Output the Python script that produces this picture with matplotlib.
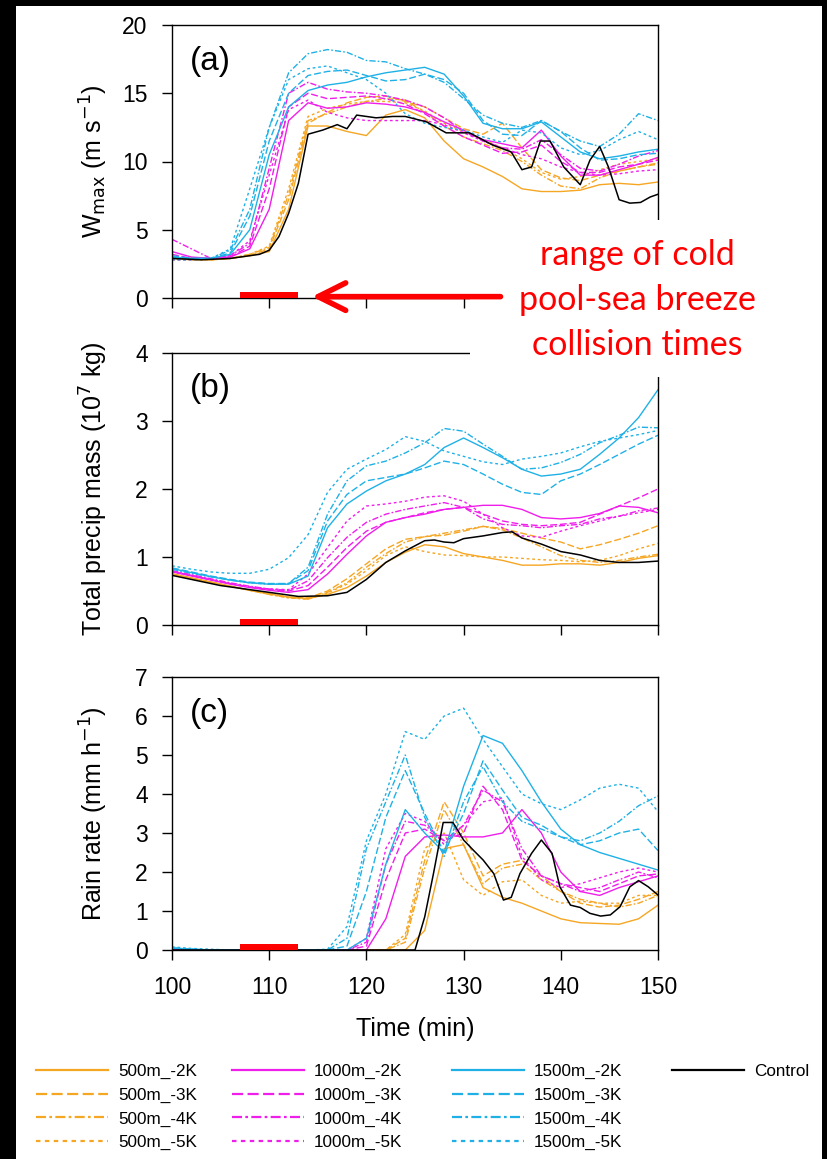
import matplotlib
matplotlib.use("Agg")
import matplotlib.pyplot as plt
from matplotlib.lines import Line2D
from matplotlib.patches import Rectangle
from matplotlib.text import Annotation

plt.rcParams["font.family"] = ["Liberation Sans", "DejaVu Sans"]

# time grid (min) shared by the sensitivity runs
TIME = [100, 102, 104, 106, 108, 110, 112, 114, 116, 118, 120, 122, 124,
        126, 128, 130, 132, 134, 136, 138, 140, 142, 144, 146, 148, 150]

LABELS = ["500m_-2K", "500m_-3K", "500m_-4K", "500m_-5K",
          "1000m_-2K", "1000m_-3K", "1000m_-4K", "1000m_-5K",
          "1500m_-2K", "1500m_-3K", "1500m_-4K", "1500m_-5K"]

# (a) W_max (m/s)
WMAX = {
    "500m_-2K": [3.0, 2.9, 2.8, 2.9, 3.1, 3.4, 6.5, 12.6, 12.6, 12.2, 11.9, 13.4, 13.8, 13.2, 11.5, 10.2, 9.6, 8.9, 8.0, 7.8, 7.8, 7.9, 8.3, 8.4, 8.3, 8.5],
    "500m_-3K": [2.9, 2.8, 2.8, 2.9, 3.1, 3.6, 7.2, 12.8, 13.6, 14.3, 14.7, 14.8, 14.4, 14.0, 13.2, 12.4, 12.0, 12.8, 11.0, 9.4, 8.8, 8.6, 9.0, 9.3, 9.6, 9.8],
    "500m_-4K": [2.9, 2.8, 2.8, 2.9, 3.2, 3.7, 7.6, 13.0, 13.5, 14.0, 14.4, 14.6, 14.5, 13.6, 12.6, 11.8, 11.3, 10.8, 10.0, 9.0, 8.2, 8.0, 8.8, 9.3, 9.6, 9.9],
    "500m_-5K": [2.8, 2.8, 2.8, 2.9, 3.2, 3.8, 8.0, 13.3, 13.9, 14.2, 14.4, 14.4, 14.3, 13.7, 12.8, 12.2, 11.6, 11.0, 10.2, 9.2, 8.7, 8.9, 9.4, 9.8, 10.0, 10.2],
    "1000m_-2K": [3.4, 3.0, 2.9, 3.0, 3.6, 6.5, 13.0, 14.3, 13.9, 14.0, 14.3, 14.2, 14.0, 13.6, 12.9, 12.3, 11.6, 11.3, 11.0, 12.3, 10.4, 9.0, 9.0, 9.4, 9.8, 10.3],
    "1000m_-3K": [3.2, 2.9, 2.9, 3.0, 3.8, 8.0, 14.0, 15.0, 14.6, 14.7, 14.8, 14.6, 14.2, 13.5, 12.6, 11.8, 11.2, 10.6, 10.7, 11.2, 10.0, 9.2, 9.2, 9.6, 9.8, 10.1],
    "1000m_-4K": [4.3, 3.6, 2.9, 3.1, 4.0, 9.5, 15.0, 15.8, 15.3, 15.1, 15.0, 14.8, 14.5, 14.0, 13.2, 12.2, 11.5, 11.0, 10.9, 11.6, 10.5, 9.5, 9.3, 9.8, 10.4, 10.8],
    "1000m_-5K": [2.8, 2.8, 2.9, 3.1, 4.2, 9.0, 13.8, 14.5, 13.6, 13.2, 13.0, 13.0, 13.0, 13.0, 12.7, 12.1, 11.5, 11.0, 10.5, 10.2, 9.6, 9.2, 9.0, 9.1, 9.3, 9.4],
    "1500m_-2K": [3.0, 2.9, 2.9, 3.2, 5.0, 10.5, 14.0, 15.2, 15.6, 15.8, 16.2, 16.5, 16.7, 16.9, 16.4, 14.8, 12.8, 12.4, 12.4, 12.9, 11.8, 10.7, 10.2, 10.4, 10.7, 10.9],
    "1500m_-3K": [3.1, 2.9, 2.9, 3.3, 6.0, 11.5, 15.0, 16.3, 16.6, 16.7, 16.3, 15.9, 16.0, 16.4, 16.0, 15.0, 13.0, 12.0, 11.9, 13.0, 12.2, 11.0, 10.1, 10.2, 10.5, 10.6],
    "1500m_-4K": [3.0, 2.9, 2.9, 3.5, 6.5, 12.5, 16.5, 17.9, 18.2, 18.0, 17.4, 17.3, 16.8, 16.4, 15.8, 14.6, 13.4, 12.8, 12.5, 13.0, 12.2, 11.5, 11.1, 12.0, 13.5, 13.0],
    "1500m_-5K": [2.8, 2.8, 2.9, 3.6, 8.0, 12.5, 16.0, 16.8, 17.0, 16.5, 16.0, 15.0, 13.5, 12.8, 12.5, 12.3, 11.8, 11.4, 12.3, 12.1, 11.0, 10.5, 10.8, 11.6, 12.2, 11.6],
}

# (b) total precip mass (1e7 kg)
PMASS = {
    "500m_-2K": [0.75, 0.69, 0.63, 0.57, 0.51, 0.46, 0.41, 0.39, 0.45, 0.55, 0.72, 0.92, 1.07, 1.18, 1.15, 1.05, 1.00, 0.95, 0.88, 0.88, 0.90, 0.90, 0.88, 0.92, 0.98, 1.02],
    "500m_-3K": [0.75, 0.69, 0.63, 0.57, 0.51, 0.46, 0.41, 0.40, 0.50, 0.68, 0.90, 1.12, 1.26, 1.30, 1.32, 1.38, 1.45, 1.42, 1.35, 1.28, 1.22, 1.12, 1.18, 1.26, 1.35, 1.46],
    "500m_-4K": [0.75, 0.69, 0.63, 0.57, 0.51, 0.45, 0.40, 0.38, 0.48, 0.62, 0.85, 1.05, 1.22, 1.30, 1.35, 1.40, 1.45, 1.40, 1.28, 1.15, 1.02, 0.95, 0.92, 0.95, 1.00, 1.04],
    "500m_-5K": [0.75, 0.69, 0.63, 0.57, 0.51, 0.45, 0.40, 0.38, 0.47, 0.60, 0.80, 1.02, 1.15, 1.08, 1.03, 1.02, 1.00, 1.00, 0.98, 0.96, 0.95, 0.93, 0.95, 1.02, 1.12, 1.20],
    "1000m_-2K": [0.78, 0.72, 0.66, 0.60, 0.55, 0.51, 0.48, 0.52, 0.75, 1.04, 1.31, 1.51, 1.58, 1.63, 1.70, 1.73, 1.76, 1.76, 1.70, 1.58, 1.56, 1.58, 1.64, 1.75, 1.73, 1.65],
    "1000m_-3K": [0.79, 0.73, 0.67, 0.61, 0.56, 0.52, 0.50, 0.58, 0.85, 1.14, 1.38, 1.51, 1.58, 1.65, 1.70, 1.73, 1.63, 1.53, 1.48, 1.46, 1.48, 1.51, 1.63, 1.75, 1.87, 2.00],
    "1000m_-4K": [0.80, 0.74, 0.68, 0.62, 0.57, 0.53, 0.51, 0.65, 0.99, 1.29, 1.51, 1.63, 1.70, 1.75, 1.80, 1.73, 1.56, 1.48, 1.46, 1.43, 1.46, 1.48, 1.56, 1.60, 1.68, 1.72],
    "1000m_-5K": [0.79, 0.73, 0.67, 0.61, 0.56, 0.53, 0.52, 0.75, 1.14, 1.53, 1.75, 1.78, 1.82, 1.88, 1.90, 1.82, 1.63, 1.43, 1.31, 1.29, 1.38, 1.46, 1.53, 1.60, 1.65, 1.70],
    "1500m_-2K": [0.83, 0.77, 0.71, 0.66, 0.62, 0.60, 0.60, 0.72, 1.43, 1.78, 1.97, 2.12, 2.22, 2.36, 2.61, 2.75, 2.61, 2.46, 2.29, 2.19, 2.22, 2.29, 2.51, 2.75, 3.05, 3.46],
    "1500m_-3K": [0.84, 0.78, 0.72, 0.67, 0.63, 0.61, 0.61, 0.80, 1.53, 1.92, 2.12, 2.17, 2.22, 2.31, 2.41, 2.36, 2.22, 2.07, 1.95, 1.92, 2.12, 2.22, 2.36, 2.51, 2.66, 2.79],
    "1500m_-4K": [0.82, 0.76, 0.71, 0.66, 0.62, 0.60, 0.61, 0.85, 1.63, 2.12, 2.34, 2.41, 2.53, 2.68, 2.89, 2.85, 2.66, 2.48, 2.29, 2.31, 2.39, 2.51, 2.68, 2.79, 2.91, 2.90],
    "1500m_-5K": [0.87, 0.82, 0.78, 0.76, 0.76, 0.82, 0.99, 1.33, 1.95, 2.29, 2.44, 2.58, 2.77, 2.70, 2.56, 2.48, 2.40, 2.36, 2.44, 2.48, 2.53, 2.62, 2.70, 2.75, 2.80, 2.86],
}

# (c) rain rate (mm/h)
RAIN = {
    "500m_-2K": [0, 0, 0, 0, 0, 0, 0, 0, 0, 0, 0, 0, 0, 0.5, 2.6, 2.7, 1.6, 1.35, 1.2, 1.0, 0.8, 0.7, 0.68, 0.66, 0.8, 1.15],
    "500m_-3K": [0, 0, 0, 0, 0, 0, 0, 0, 0, 0, 0, 0, 0.3, 2.3, 3.8, 3.0, 1.9, 2.2, 2.3, 1.9, 1.5, 1.2, 1.1, 1.15, 1.3, 1.5],
    "500m_-4K": [0, 0, 0, 0, 0, 0, 0, 0, 0, 0, 0, 0, 0.2, 2.1, 3.6, 2.7, 1.7, 2.1, 2.2, 1.8, 1.5, 1.3, 1.2, 1.1, 1.2, 1.4],
    "500m_-5K": [0, 0, 0, 0, 0, 0, 0, 0, 0, 0, 0, 0, 0.4, 2.6, 3.0, 1.8, 1.4, 1.75, 1.8, 1.4, 1.2, 1.25, 1.2, 1.2, 1.4, 1.4],
    "1000m_-2K": [0, 0, 0, 0, 0, 0, 0, 0, 0, 0, 0, 0.8, 2.4, 2.9, 2.95, 2.9, 2.9, 3.0, 3.6, 3.0, 2.0, 1.5, 1.4, 1.6, 1.75, 1.9],
    "1000m_-3K": [0, 0, 0, 0, 0, 0, 0, 0, 0, 0, 0.1, 1.8, 3.0, 3.1, 2.8, 3.0, 4.2, 3.6, 2.3, 1.9, 1.7, 1.6, 1.5, 1.7, 1.9, 1.95],
    "1000m_-4K": [0, 0, 0, 0, 0, 0, 0, 0, 0, 0, 0.2, 2.2, 3.3, 3.2, 2.8, 3.2, 4.1, 3.8, 2.6, 1.9, 1.7, 1.5, 1.6, 1.8, 2.0, 1.85],
    "1000m_-5K": [0, 0, 0, 0, 0, 0, 0, 0, 0, 0, 0.3, 2.6, 3.5, 3.3, 2.7, 3.2, 3.8, 3.9, 2.4, 1.8, 1.6, 1.7, 1.85, 2.0, 2.1, 2.0],
    "1500m_-2K": [0.05, 0.02, 0, 0, 0, 0, 0, 0, 0, 0, 0.3, 2.2, 3.6, 3.0, 2.5, 4.2, 5.5, 5.3, 4.6, 3.8, 3.1, 2.7, 2.5, 2.35, 2.2, 2.05],
    "1500m_-3K": [0.05, 0.02, 0, 0, 0, 0, 0, 0, 0, 0.1, 1.5, 3.4, 4.6, 3.5, 2.5, 3.5, 4.85, 4.1, 3.4, 3.2, 2.9, 2.7, 2.8, 3.0, 3.1, 2.55],
    "1500m_-4K": [0.05, 0.02, 0, 0, 0, 0, 0, 0, 0, 0.3, 2.6, 3.8, 5.0, 3.4, 2.4, 3.8, 4.7, 3.8, 3.3, 3.1, 2.9, 2.8, 3.0, 3.3, 3.7, 3.95],
    "1500m_-5K": [0.08, 0.04, 0.02, 0, 0, 0, 0, 0, 0.02, 0.6, 2.8, 4.0, 5.6, 5.4, 6.0, 6.2, 5.4, 4.7, 4.0, 3.75, 3.6, 3.85, 4.15, 4.25, 4.15, 3.55],
}

# control run, sampled on its own times
CTRL_A_T = [100, 103, 106, 109, 110, 111, 112, 113, 114, 115.5, 117, 118, 119, 121, 122.7, 124, 126.2, 128.2,
            130.6, 133, 134.9, 136, 137, 137.9, 138.9, 140.3, 142, 143, 144, 144.9, 146, 147.1, 148.2, 149.2, 150]
CTRL_A_V = [2.9, 2.8, 2.9, 3.2, 3.5, 4.5, 6.2, 8.4, 12.0, 12.3, 12.7, 12.4, 13.4, 13.2, 13.3, 13.3, 12.9, 12.1,
            12.1, 11.2, 10.7, 9.4, 9.6, 11.5, 11.5, 9.6, 8.3, 10.1, 11.1, 9.6, 7.2, 6.95, 7.0, 7.4, 7.6]
CTRL_B_T = [100, 105, 110, 113, 116, 118, 120, 122, 124, 126, 127, 128, 129, 130, 132, 134, 135, 136, 138,
            140, 142, 144, 146, 148, 150]
CTRL_B_V = [0.73, 0.58, 0.48, 0.42, 0.43, 0.48, 0.67, 0.92, 1.09, 1.24, 1.25, 1.22, 1.21, 1.27, 1.31, 1.36,
            1.37, 1.28, 1.19, 1.08, 1.03, 0.95, 0.92, 0.92, 0.94]
CTRL_C_T = [100, 125, 126, 126.9, 127.9, 128.9, 130, 131, 132, 133.1, 134.1, 134.9, 135.8, 137, 138, 139.1,
            139.9, 141, 142, 143, 144.1, 145.1, 146.1, 147.1, 148, 149, 150]
CTRL_C_V = [0, 0, 0.85, 1.96, 3.27, 3.27, 2.82, 2.56, 2.31, 1.96, 1.28, 1.35, 1.96, 2.48, 2.82, 2.48,
            1.62, 1.15, 1.09, 0.94, 0.87, 0.90, 1.11, 1.62, 1.78, 1.62, 1.41]

COLLISION = (107, 113)

COLORS = {"500m": "#F5A623", "1000m": "#F01EEB", "1500m": "#1FB1E6"}
STYLES = {"-2K": "-", "-3K": (0, (5, 2)), "-4K": (0, (4.5, 1.5, 1.2, 1.5)), "-5K": (0, (2, 2))}


def style_of(label):
    depth, temp = label.split("_")
    return COLORS[depth], STYLES[temp]


W, H = 828, 1159
fig = plt.figure(figsize=(W / 100, H / 100), dpi=100, facecolor="black")
fig.add_artist(Rectangle((16 / W, 0), (822 - 16) / W, 1 - 6 / H, transform=fig.transFigure,
                         facecolor="white", edgecolor="none", zorder=-10))

left, width = 172 / W, 486 / W
panels = [
    ("(a)", WMAX, CTRL_A_T, CTRL_A_V, (0, 20), [0, 5, 10, 15, 20], r"W$_{\mathrm{max}}$ (m s$^{-1}$)", 25, 298),
    ("(b)", PMASS, CTRL_B_T, CTRL_B_V, (0, 4), [0, 1, 2, 3, 4], r"Total precip mass (10$^{7}$ kg)", 353, 625),
    ("(c)", RAIN, CTRL_C_T, CTRL_C_V, (0, 7), list(range(8)), r"Rain rate (mm h$^{-1}$)", 677, 950),
]

axes = []
for tag, series, ct, cv, ylim, yticks, ylabel, top, bottom in panels:
    ax = fig.add_axes([left, 1 - bottom / H, width, (bottom - top) / H])
    for label in LABELS:
        color, ls = style_of(label)
        ax.plot(TIME, series[label], color=color, linestyle=ls, lw=1.0)
    ax.plot(ct, cv, color="black", lw=1.1)
    ax.axvspan(COLLISION[0], COLLISION[1], ymin=0, ymax=0.022, color="red", lw=0, zorder=5)
    ax.set_xlim(100, 150)
    ax.set_ylim(*ylim)
    ax.set_yticks(yticks)
    ax.set_xticks([100, 110, 120, 130, 140, 150])
    ax.tick_params(direction="out", length=7.5, width=1.0, labelsize=16.5)
    ax.tick_params(axis="x", pad=11)
    ax.tick_params(axis="y", pad=10)
    ax.set_ylabel(ylabel, fontsize=18)
    ax.yaxis.set_label_coords(-0.128, 0.5)
    ax.text(0.037, 0.868, tag, transform=ax.transAxes, fontsize=24, ha="left", va="center")
    for sp in ax.spines.values():
        sp.set_linewidth(1.0)
    axes.append(ax)

for ax in axes[:2]:
    ax.set_xticklabels([])
axes[2].set_xlabel("Time (min)", fontsize=18, labelpad=13)

# white box for the annotation, hiding the axes frame behind it
fig.add_artist(Rectangle((470 / W, 1 - 377 / H), (822 - 470) / W, (377 - 220) / H,
                         transform=fig.transFigure, facecolor="white", edgecolor="none", zorder=5))
fig.text(637 / W, 1 - 300 / H, "range of cold\npool-sea breeze\ncollision times", color="red",
         fontsize=24.5, family=["Lato", "DejaVu Sans"], ha="center", va="center",
         linespacing=1.5, zorder=6)
arrow = Annotation("", xy=(114.4, 0.1), xytext=(133.8, 0.1), xycoords=axes[0].transData,
                   arrowprops=dict(arrowstyle="->,head_length=0.9,head_width=0.45", color="red",
                                   lw=4, mutation_scale=22, shrinkA=0, shrinkB=0),
                   annotation_clip=False)
arrow.set_zorder(7)
fig.add_artist(arrow)

# legend, one block per column
groups = [LABELS[0:4], LABELS[4:8], LABELS[8:12], ["Control"]]
col_x = [36, 232, 452, 672]
for xpos, group in zip(col_x, groups):
    handles = []
    for label in group:
        if label == "Control":
            handles.append(Line2D([], [], color="black", lw=1.6, label=label))
        else:
            color, ls = style_of(label)
            handles.append(Line2D([], [], color=color, linestyle=ls, lw=1.6, label=label))
    fig.legend(handles=handles, loc="upper left", bbox_to_anchor=(xpos / W, 1 - 1064 / H),
               frameon=False, fontsize=12.3, handlelength=4.2, handletextpad=0.6,
               labelspacing=0.5, borderpad=0, borderaxespad=0)

fig.savefig("out.png", dpi=100, facecolor=fig.get_facecolor())
